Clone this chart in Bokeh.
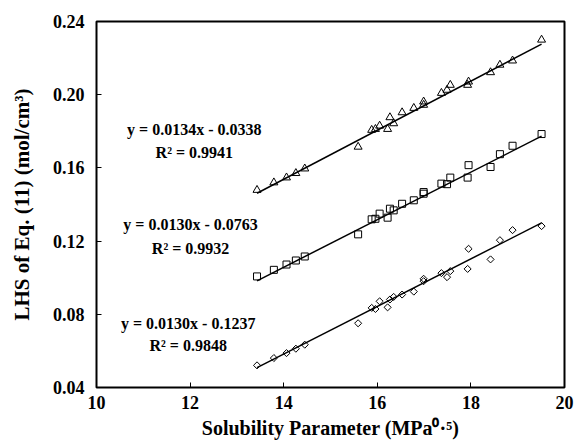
import math
from bokeh.plotting import figure
from bokeh.models import Range1d, FixedTicker, PrintfTickFormatter, ColumnDataSource
from bokeh.core.properties import value
from bokeh.embed import file_html
from bokeh.resources import INLINE

# ---- data ----
solubility = [13.43, 13.79, 14.06, 14.26, 14.45, 15.59, 15.88, 15.96, 16.05, 16.22,
              16.27, 16.35, 16.53, 16.78, 16.99, 16.99, 17.37, 17.49, 17.56, 17.93,
              17.95, 18.42, 18.62, 18.89, 19.51]
triangles = [0.1479, 0.1520, 0.1547, 0.1571, 0.1596, 0.1715, 0.1807, 0.1812, 0.1830, 0.1812,
             0.1876, 0.1843, 0.1903, 0.1927, 0.1962, 0.1944, 0.2009, 0.2026, 0.2053, 0.2053,
             0.2071, 0.2122, 0.2163, 0.2186, 0.2300]
squares = [0.1007, 0.1043, 0.1072, 0.1094, 0.1116, 0.1237, 0.1319, 0.1322, 0.1350, 0.1328,
           0.1377, 0.1368, 0.1404, 0.1423, 0.1468, 0.1459, 0.1514, 0.1511, 0.1547, 0.1547,
           0.1615, 0.1605, 0.1675, 0.1721, 0.1785]
diamonds = [0.0521, 0.0561, 0.0588, 0.0612, 0.0634, 0.0751, 0.0835, 0.0829, 0.0871, 0.0838,
            0.0881, 0.0895, 0.0908, 0.0924, 0.0994, 0.0981, 0.1025, 0.1003, 0.1036, 0.1048,
            0.1158, 0.1100, 0.1205, 0.1260, 0.1282]
slopes = [0.0134, 0.0130, 0.0130]
intercepts = [-0.0338, -0.0763, -0.1237]
r_squared = [0.9941, 0.9932, 0.9848]
x_ticks = [10, 12, 14, 16, 18, 20]
y_ticks = [0.04, 0.08, 0.12, 0.16, 0.20, 0.24]
x_title = "Solubility Parameter (MPa\u2070\u00b7\u2075)"
y_title = "LHS of Eq. (11) (mol/cm\u00b3)"

# annotation anchor positions (data coords)
eq_x = [12.09, 12.01, 11.96]
eq_y = [0.1808, 0.1293, 0.0751]
r2_y = [0.1682, 0.1162, 0.0630]

FONT = "Liberation Serif"

p = figure(width=575, height=443, x_range=Range1d(10, 20), y_range=Range1d(0.04, 0.24),
           output_backend="svg", toolbar_location=None,
           min_border_left=96, min_border_right=11, min_border_top=21, min_border_bottom=56)
p.background_fill_color = "white"
p.border_fill_color = "white"
p.outline_line_color = "black"
p.outline_line_width = 2
p.grid.visible = False

for ax in (p.xaxis[0], p.yaxis[0]):
    ax.axis_line_color = None
    ax.major_tick_in = 5
    ax.major_tick_out = 0
    ax.major_tick_line_color = "black"
    ax.major_tick_line_width = 1
    ax.minor_tick_line_color = None
    ax.major_label_text_font = FONT
    ax.major_label_text_font_style = "bold"
    ax.major_label_text_font_size = "18px"
    ax.major_label_text_color = "black"
    ax.axis_label_text_font = FONT
    ax.axis_label_text_font_style = "bold"
    ax.axis_label_text_color = "black"

p.xaxis.ticker = FixedTicker(ticks=x_ticks)
p.yaxis.ticker = FixedTicker(ticks=y_ticks)
p.yaxis.formatter = PrintfTickFormatter(format="%.2f")
p.xaxis.major_label_standoff = 8
p.yaxis.major_label_standoff = 12

p.xaxis.axis_label = x_title
p.xaxis.axis_label_text_font_size = "20px"
p.xaxis.axis_label_standoff = 5
p.yaxis.axis_label = y_title
p.yaxis.axis_label_text_font_size = "21px"
p.yaxis.axis_label_standoff = 16

# fit lines
for m, b in zip(slopes, intercepts):
    xs = [min(solubility), max(solubility)]
    ys = [m * x + b for x in xs]
    p.line(xs, ys, line_color="black", line_width=1.5)

p.scatter(solubility, triangles, marker="triangle", size=8, fill_color=None,
          line_color="black", line_width=1)
p.scatter(solubility, squares, marker="square", size=7, fill_color=None,
          line_color="black", line_width=1)
p.scatter(solubility, diamonds, marker="square", size=5, angle=math.pi / 4, fill_color=None,
          line_color="black", line_width=1)

eq_text = [f"y = {m:.4f}x - {abs(b):.4f}" for m, b in zip(slopes, intercepts)]
r2_text = [f"R\u00b2 = {r:.4f}" for r in r_squared]
src = ColumnDataSource(dict(x=eq_x + eq_x, y=eq_y + r2_y, t=eq_text + r2_text))
p.text(x="x", y="y", text="t", source=src, text_font=value(FONT), text_font_style="bold",
       text_font_size="16px", text_align="center", text_baseline="middle", text_color="black")

open("out.html", "w").write(file_html(p, INLINE))
